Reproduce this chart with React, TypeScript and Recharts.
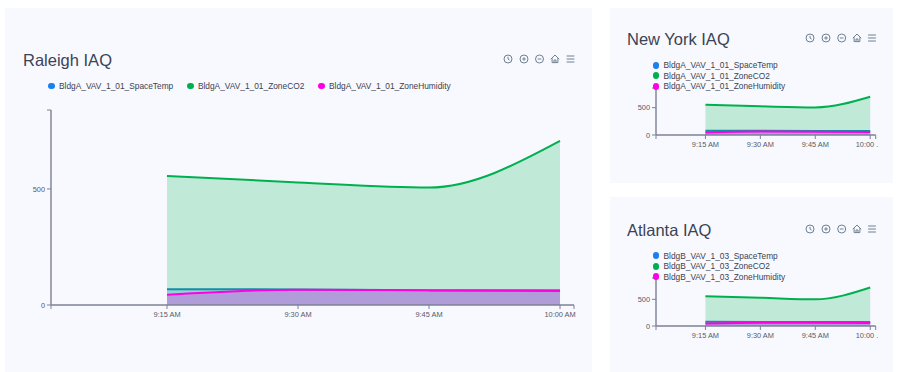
import { AreaChart, Area, XAxis, YAxis } from "recharts";

const FONT = "'Liberation Sans', Arial, sans-serif";
const AXIS_COLOR = "#7c8096";
const LABEL_COLOR = "#565b66";
const SERIES_COLORS = ["#1a7ff0", "#00b050", "#ff00e6"];
// the blue line sits under the green fill, so it reads teal in the plot
const TEMP_LINE = "#1783bd";

const minutes = [0, 15, 30, 45];
const timeLabels = ["9:15 AM", "9:30 AM", "9:45 AM", "10:00 AM"];

const raleighNames = ["BldgA_VAV_1_01_SpaceTemp", "BldgA_VAV_1_01_ZoneCO2", "BldgA_VAV_1_01_ZoneHumidity"];
const raleighTemp = [68, 67, 64, 64];
const raleighCo2 = [556, 528, 506, 707];
const raleighHumidity = [44, 66, 63, 60];

const newYorkNames = ["BldgA_VAV_1_01_SpaceTemp", "BldgA_VAV_1_01_ZoneCO2", "BldgA_VAV_1_01_ZoneHumidity"];
const newYorkTemp = [78, 76, 74, 72];
const newYorkCo2 = [552, 525, 505, 700];
const newYorkHumidity = [48, 62, 60, 56];

const atlantaNames = ["BldgB_VAV_1_03_SpaceTemp", "BldgB_VAV_1_03_ZoneCO2", "BldgB_VAV_1_03_ZoneHumidity"];
const atlantaTemp = [78, 76, 74, 74];
const atlantaCo2 = [556, 530, 500, 722];
const atlantaHumidity = [46, 60, 60, 58];

function buildRows(temp: number[], co2: number[], humidity: number[]) {
  return minutes.map((m, i) => ({ m, temp: temp[i], co2: co2[i], humidity: humidity[i] }));
}

function Toolbar({ xs, y }: { xs: number[]; y: number }) {
  const c = "#6f8090";
  const icon = (i: number) => {
    if (i === 0)
      return <><circle cx={0} cy={0} r={4} /><path d="M0 -2.2 V0 L1.6 1.1" /></>;
    if (i === 1)
      return <><circle cx={0} cy={0} r={4} /><path d="M-1.8 0 H1.8 M0 -1.8 V1.8" /></>;
    if (i === 2)
      return <><circle cx={0} cy={0} r={4} /><path d="M-1.8 0 H1.8" /></>;
    if (i === 3)
      return <path d="M-4.2 0.2 L0 -4 L4.2 0.2 M-2.9 -0.8 V3.6 H2.9 V-0.8 M-1 3.6 V1 H1 V3.6" />;
    return <path d="M-3.9 -3 H3.9 M-3.9 0 H3.9 M-3.9 3 H3.9" />;
  };
  return (
    <svg width={900} height={372} style={{ position: "absolute", left: 0, top: 0, pointerEvents: "none" }}>
      {xs.map((x, i) => (
        <g key={i} transform={`translate(${x},${y})`} fill="none" stroke={c} strokeWidth={1}>
          {icon(i)}
        </g>
      ))}
    </svg>
  );
}

function LegendRow({ names, x, y, vertical }: { names: string[]; x: number; y: number; vertical: boolean }) {
  return (
    <div style={{
      position: "absolute", left: x, top: y, display: "flex",
      flexDirection: vertical ? "column" : "row", gap: vertical ? 0 : 13.7,
      fontFamily: FONT, fontSize: 8.35, color: "#3d4250",
    }}>
      {names.map((n, i) => (
        <div key={n} style={{ display: "flex", alignItems: "center", height: vertical ? 10.5 : 12, whiteSpace: "nowrap" }}>
          <span style={{
            width: 6.6, height: 6.6, borderRadius: "50%", background: SERIES_COLORS[i], marginRight: 4.4, flex: "none",
          }} />
          {n}
        </div>
      ))}
    </div>
  );
}

function TimeTick({ x, y, payload, short }: any) {
  const i = minutes.indexOf(payload.value);
  if (i < 0) return null;
  const last = short && i === 3;
  return (
    <text x={last ? x - 14.5 : x} y={y + 6} textAnchor={last ? "start" : "middle"}
      style={{ fontFamily: FONT, fontSize: 7.4, fill: LABEL_COLOR }}>
      {last ? "10:00 ." : timeLabels[i]}
    </text>
  );
}

interface PanelProps {
  title: string;
  names: string[];
  rows: any[];
  box: { x: number; y: number; w: number; h: number };
  titleX: number;
  titleBase: number;
  toolbarXs: number[];
  toolbarY: number;
  legendX: number;
  legendY: number;
  vertical: boolean;
  chartX: number;
  chartW: number;
  axisW: number;
  rightGap: number;
  plotTop: number;
  plotBottom: number;
  yMax: number;
  xDomain: [number, number];
  short: boolean;
  strokeW: number;
}

function Panel(p: PanelProps) {
  const xTicks = [p.xDomain[0], ...minutes, p.xDomain[1]];
  return (
    <>
      <div style={{ position: "absolute", left: p.box.x, top: p.box.y, width: p.box.w, height: p.box.h, background: "#f8f9fe" }} />
      <div style={{
        position: "absolute", left: p.titleX, top: p.titleBase - 15.5, fontFamily: FONT, fontSize: 16.5,
        lineHeight: "19px", color: "#3b4356", whiteSpace: "nowrap",
      }}>{p.title}</div>
      <div style={{ position: "absolute", left: p.chartX, top: p.plotTop - 10 }}>
        <AreaChart width={p.chartW} height={p.plotBottom - p.plotTop + 40} data={p.rows}
          margin={{ top: 10, right: p.rightGap, left: 0, bottom: 0 }}>
          <XAxis dataKey="m" type="number" domain={p.xDomain} ticks={xTicks} interval={0} height={30}
            tickSize={4} tick={<TimeTick short={p.short} />}
            axisLine={{ stroke: AXIS_COLOR, strokeWidth: 1.4 }} tickLine={{ stroke: AXIS_COLOR }} />
          <YAxis type="number" domain={[0, p.yMax]} ticks={[0, 500, p.yMax]} interval={0} width={p.axisW}
            tickSize={4} tickMargin={2}
            tickFormatter={(v: number) => (v === p.yMax ? "" : String(v))}
            tick={{ fontFamily: FONT, fontSize: 7.4, fill: LABEL_COLOR }}
            axisLine={{ stroke: AXIS_COLOR, strokeWidth: 1.4 }} tickLine={{ stroke: AXIS_COLOR }} />
          <Area type="monotone" dataKey="temp" name={p.names[0]} stroke={TEMP_LINE} fill={SERIES_COLORS[0]}
            fillOpacity={0.25} strokeWidth={p.strokeW} isAnimationActive={false} dot={false} />
          <Area type="monotone" dataKey="co2" name={p.names[1]} stroke={SERIES_COLORS[1]} fill={SERIES_COLORS[1]}
            fillOpacity={0.22} strokeWidth={p.strokeW} isAnimationActive={false} dot={false} />
          <Area type="monotone" dataKey="humidity" name={p.names[2]} stroke={SERIES_COLORS[2]} fill={SERIES_COLORS[2]}
            fillOpacity={0.25} strokeWidth={p.strokeW} isAnimationActive={false} dot={false} />
        </AreaChart>
      </div>
      <LegendRow names={p.names} x={p.legendX} y={p.legendY} vertical={p.vertical} />
      <Toolbar xs={p.toolbarXs} y={p.toolbarY} />
    </>
  );
}

export default function App() {
  return (
    <div style={{ position: "absolute", left: 0, top: 0, width: 900, height: 372, overflow: "hidden", background: "#fff" }}>
      <Panel title="Raleigh IAQ" names={raleighNames} rows={buildRows(raleighTemp, raleighCo2, raleighHumidity)}
        box={{ x: 5, y: 8, w: 587, h: 364 }} titleX={23} titleBase={66}
        toolbarXs={[508, 524, 539.5, 555, 570.5]} toolbarY={59}
        legendX={48} legendY={80} vertical={false}
        chartX={0} chartW={590} axisW={51} rightGap={16} plotTop={110} plotBottom={305}
        yMax={840} xDomain={[-13.28, 46.6]} short={false} strokeW={2} />
      <Panel title="New York IAQ" names={newYorkNames} rows={buildRows(newYorkTemp, newYorkCo2, newYorkHumidity)}
        box={{ x: 610, y: 8, w: 283, h: 175 }} titleX={627} titleBase={45}
        toolbarXs={[810, 826, 841.7, 857, 872]} toolbarY={38}
        legendX={652.5} legendY={60} vertical
        chartX={605} chartW={285} axisW={51} rightGap={14.3} plotTop={88} plotBottom={135}
        yMax={860} xDomain={[-13.5, 46.5]} short strokeW={2} />
      <Panel title="Atlanta IAQ" names={atlantaNames} rows={buildRows(atlantaTemp, atlantaCo2, atlantaHumidity)}
        box={{ x: 610, y: 197, w: 283, h: 175 }} titleX={627} titleBase={236}
        toolbarXs={[810, 826, 841.7, 857, 872]} toolbarY={229}
        legendX={652.5} legendY={250.5} vertical
        chartX={605} chartW={285} axisW={51} rightGap={14.3} plotTop={278} plotBottom={326}
        yMax={900} xDomain={[-13.5, 46.5]} short strokeW={2} />
    </div>
  );
}
